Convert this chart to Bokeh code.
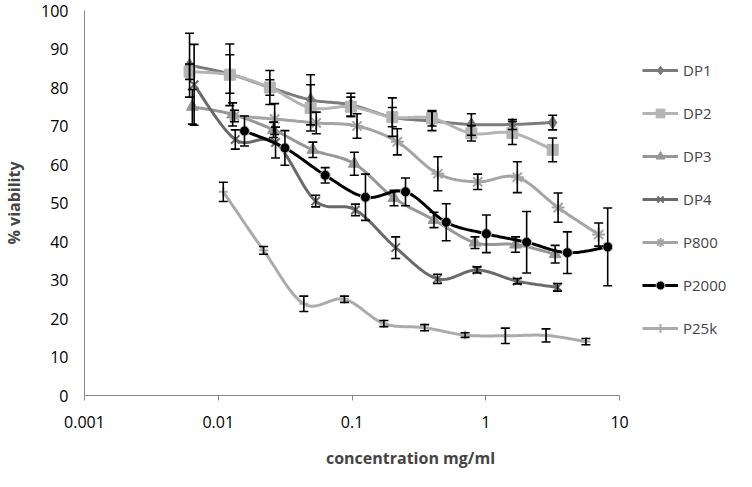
import numpy as np
from bokeh.plotting import figure
from bokeh.models import (Range1d, FixedTicker, CustomJSTickFormatter, Whisker, TeeHead,
                          ColumnDataSource, Legend, LegendItem)
from bokeh.embed import file_html
from bokeh.resources import INLINE

# ---------------- data ----------------
series_names = ["DP1", "DP2", "DP3", "DP4", "P800", "P2000", "P25k"]

dp1_x = [0.0061, 0.0122, 0.0243, 0.049, 0.098, 0.2, 0.396, 0.78, 1.58, 3.16]
dp1_y = [85.8, 83.5, 80.0, 76.8, 75.5, 72.3, 71.3, 70.4, 70.4, 70.9]
dp1_e = [8.3, 5.0, 4.4, 6.5, 3.0, 5.0, 2.5, 2.8, 1.3, 1.9]

dp2_x = [0.0061, 0.0122, 0.0243, 0.049, 0.098, 0.2, 0.396, 0.78, 1.58, 3.16]
dp2_y = [84.1, 83.3, 80.0, 74.7, 75.0, 72.3, 72.0, 68.1, 68.2, 63.8]
dp2_e = [2.0, 8.0, 2.0, 6.0, 2.5, 2.5, 2.0, 2.0, 3.0, 3.1]

dp3_x = [0.0064, 0.0128, 0.0259, 0.051, 0.104, 0.206, 0.41, 0.83, 1.67, 3.3]
dp3_y = [75.0, 73.0, 69.0, 63.8, 60.2, 51.3, 45.6, 39.7, 39.2, 36.7]
dp3_e = [4.5, 3.0, 2.0, 2.0, 3.0, 2.0, 2.0, 1.5, 2.0, 2.3]

dp4_x = [0.0066, 0.0134, 0.0268, 0.0535, 0.106, 0.212, 0.435, 0.86, 1.72, 3.44]
dp4_y = [80.7, 66.5, 65.7, 50.5, 48.2, 38.4, 30.3, 32.6, 29.7, 28.1]
dp4_e = [10.5, 2.5, 4.0, 1.5, 1.5, 2.8, 1.2, 0.8, 0.7, 1.0]

p800_x = [0.0132, 0.0264, 0.054, 0.109, 0.218, 0.438, 0.87, 1.72, 3.47, 6.98]
p800_y = [72.6, 71.8, 70.8, 70.0, 65.9, 57.6, 55.5, 56.7, 48.8, 41.8]
p800_e = [1.5, 4.0, 2.8, 3.2, 3.4, 4.4, 2.0, 4.0, 3.8, 3.0]

p2000_x = [0.0157, 0.0315, 0.063, 0.126, 0.251, 0.506, 1.01, 2.02, 4.07, 8.15]
p2000_y = [68.7, 64.3, 57.2, 51.5, 52.9, 45.0, 42.0, 39.8, 37.1, 38.6]
p2000_e = [3.9, 4.5, 2.0, 6.0, 3.6, 4.8, 4.9, 8.0, 5.4, 10.1]

p25k_x = [0.0109, 0.0218, 0.0436, 0.0877, 0.173, 0.349, 0.70, 1.40, 2.82, 5.6]
p25k_y = [52.9, 37.7, 23.8, 25.0, 18.7, 17.6, 15.7, 15.5, 15.6, 14.0]
p25k_e = [2.5, 1.0, 2.0, 0.8, 0.8, 0.8, 0.6, 2.0, 1.7, 0.8]

x_tick_values = [0.001, 0.01, 0.1, 1, 10]
x_tick_labels = ["0.001", "0.01", "0.1", "1", "10"]
y_tick_values = [0, 10, 20, 30, 40, 50, 60, 70, 80, 90, 100]

# ---------------- styles ----------------
styles = {
    "DP1":   dict(color="#7b7b7b", marker="diamond", size=13),
    "DP2":   dict(color="#b4b4b4", marker="square", size=11),
    "DP3":   dict(color="#979797", marker="triangle", size=12),
    "DP4":   dict(color="#6a6a6a", marker="x", size=12),
    "P800":  dict(color="#a4a4a4", marker="asterisk", size=13),
    "P2000": dict(color="#000000", marker="circle", size=10),
    "P25k":  dict(color="#ababab", marker="cross", size=9),
}

data = {
    "DP1": (dp1_x, dp1_y, dp1_e),
    "DP2": (dp2_x, dp2_y, dp2_e),
    "DP3": (dp3_x, dp3_y, dp3_e),
    "DP4": (dp4_x, dp4_y, dp4_e),
    "P800": (p800_x, p800_y, p800_e),
    "P2000": (p2000_x, p2000_y, p2000_e),
    "P25k": (p25k_x, p25k_y, p25k_e),
}


def smooth(xs, ys, n=20):
    """Excel-like smoothed line through the points (Bezier, in log-x space)."""
    P = np.column_stack([np.log10(xs), np.asarray(ys, dtype=float)])
    out = []
    m = len(P)
    for i in range(m - 1):
        p0 = P[i - 1] if i > 0 else P[i]
        p1 = P[i]
        p2 = P[i + 1]
        p3 = P[i + 2] if i + 2 < m else P[i + 1]
        c1 = p1 + (p2 - p0) / 6.0
        c2 = p2 - (p3 - p1) / 6.0
        t = np.linspace(0, 1, n, endpoint=(i == m - 2))[:, None]
        B = ((1 - t) ** 3) * p1 + 3 * ((1 - t) ** 2) * t * c1 + 3 * (1 - t) * t ** 2 * c2 + t ** 3 * p2
        out.append(B)
    B = np.vstack(out)
    return 10 ** B[:, 0], B[:, 1]


FONT = "Open Sans"

# frame spans the legend area too; the x axis itself is bounded to 0.001..10
X_MIN, X_MAX = 0.001, 10
DECADE_PX = 135.0
LEGEND_PX = 118.0
x_end = 10 ** (np.log10(X_MAX) + LEGEND_PX / DECADE_PX)

p = figure(width=736, height=471, x_axis_type="log",
           x_range=Range1d(X_MIN, x_end), y_range=Range1d(0, 100),
           output_backend="svg", toolbar_location=None,
           min_border_left=78, min_border_right=0, min_border_top=10, min_border_bottom=76)
p.outline_line_color = None
p.xgrid.visible = False
p.ygrid.visible = False
p.background_fill_color = "white"

items = []
whisker_list = []
for name in series_names:
    xs, ys, es = data[name]
    st = styles[name]
    sx, sy = smooth(xs, ys)
    lr = p.line(sx, sy, line_color=st["color"], line_width=3)
    src = ColumnDataSource(dict(x=xs, y=ys,
                                upper=[a + b for a, b in zip(ys, es)],
                                lower=[a - b for a, b in zip(ys, es)]))
    if name == "P2000":
        sr = p.scatter("x", "y", source=src, marker="circle", size=st["size"],
                       fill_color="#000000", line_color="#c8c8c8", line_width=1)
    elif st["marker"] in ("x", "asterisk", "cross"):
        sr = p.scatter("x", "y", source=src, marker=st["marker"], size=st["size"],
                       line_color=st["color"], line_width=2)
    else:
        sr = p.scatter("x", "y", source=src, marker=st["marker"], size=st["size"],
                       fill_color=st["color"], line_color=st["color"])
    w = Whisker(base="x", upper="upper", lower="lower", source=src,
                line_color="black", line_width=1.6, level="overlay",
                upper_head=TeeHead(size=9, line_color="black", line_width=1.6),
                lower_head=TeeHead(size=9, line_color="black", line_width=1.6))
    whisker_list.append(w)
    items.append(LegendItem(label=name, renderers=[lr, sr]))

for w in whisker_list:
    p.add_layout(w)

# axes
xa = p.xaxis[0]
xa.bounds = (X_MIN, X_MAX)
xa.ticker = FixedTicker(ticks=x_tick_values)
xa.formatter = CustomJSTickFormatter(args=dict(vals=x_tick_values, labs=x_tick_labels), code="""
const i = vals.findIndex(v => Math.abs(Math.log10(v) - Math.log10(tick)) < 1e-6);
return i >= 0 ? labs[i] : '';
""")
xa.minor_tick_line_color = None
xa.major_tick_in = 0
xa.major_tick_out = 5
xa.major_tick_line_color = "#868686"
xa.axis_line_color = "#868686"
xa.axis_line_width = 1
xa.major_label_standoff = 15
xa.major_label_text_font = FONT
xa.major_label_text_font_size = "16px"
xa.major_label_text_color = "#000000"
xa.axis_label = "concentration mg/ml"
xa.axis_label_text_font = FONT
xa.axis_label_text_font_size = "16px"
xa.axis_label_text_font_style = "bold"
xa.axis_label_standoff = 16

ya = p.yaxis[0]
ya.ticker = FixedTicker(ticks=y_tick_values)
ya.minor_tick_line_color = None
ya.major_tick_in = 0
ya.major_tick_out = 0
ya.axis_line_color = "#868686"
ya.major_label_standoff = 16
ya.major_label_text_font = FONT
ya.major_label_text_font_size = "16px"
ya.major_label_text_color = "#000000"
ya.axis_label = "% viability"
ya.axis_label_text_font = FONT
ya.axis_label_text_font_size = "16px"
ya.axis_label_text_font_style = "bold"
ya.axis_label_standoff = 13

legend = Legend(items=items, location=(553, 51), orientation="vertical",
                glyph_width=36, glyph_height=22, label_height=22, spacing=21,
                padding=5, margin=0, label_standoff=5,
                label_text_font=FONT, label_text_font_size="15px",
                border_line_alpha=0, background_fill_alpha=0)
p.add_layout(legend, "center")

open("out.html", "w").write(file_html(p, INLINE))
